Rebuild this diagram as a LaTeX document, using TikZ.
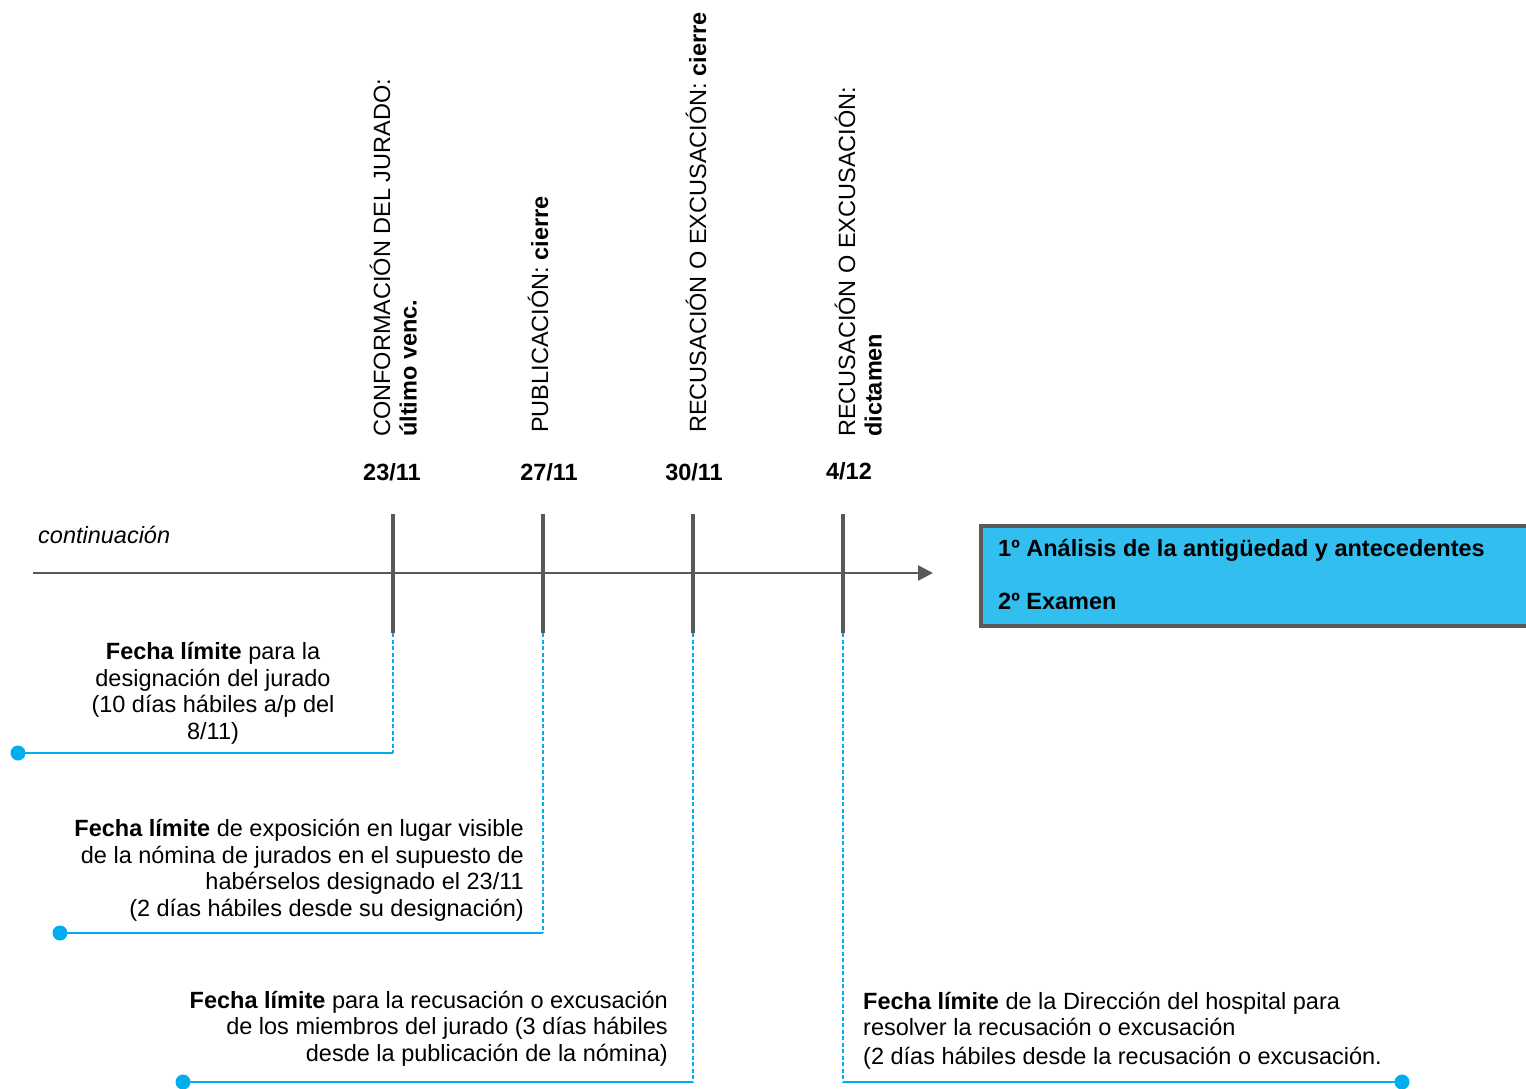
\documentclass[tikz,border=0pt]{standalone}
\usepackage{fontspec}
\setmainfont{Liberation Sans}
\usetikzlibrary{arrows.meta}

\definecolor{ejegris}{RGB}{89,89,89}
\definecolor{lineaazul}{RGB}{0,174,239}
\definecolor{cajaazul}{RGB}{51,190,240}
\newcommand{\letra}{\fontsize{23.5}{26.5}\selectfont}

\tikzset{
  eje/.style={ejegris, line width=2.5pt, -{Triangle[length=15pt,width=15pt]}},
  marca/.style={ejegris, line width=4.5pt},
  guia/.style={lineaazul, line width=1.5pt, dash pattern=on 4pt off 2.5pt},
  tramo/.style={lineaazul, line width=2.5pt},
  punto/.style={circle, fill=lineaazul, inner sep=0pt, minimum size=15pt},
  hito/.style={rotate=90, inner sep=0pt, align=left, font=\letra},
  fecha/.style={inner sep=0pt, anchor=base, font=\letra\bfseries},
  texto/.style={inner sep=0pt, font=\letra},
  caja/.style={draw=ejegris, line width=4pt, fill=cajaazul, inner sep=0pt,
    minimum width=560pt, minimum height=100pt}
}

\begin{document}
\begin{tikzpicture}[x=1pt,y=-1pt]
    \useasboundingbox (0,0) rectangle (1526,1088);
    % eje temporal
    \coordinate (ini) at (33,573);
    \coordinate (fin) at (933,573);
    \draw[eje] (ini) -- (fin);
    \node[texto, anchor=base west, font=\letra\itshape] (cont) at (38,543) {continuación};

    % hitos
    \coordinate (m1a) at (393,514);
    \coordinate (m1b) at (393,633);
    \coordinate (m2a) at (543,514);
    \coordinate (m2b) at (543,633);
    \coordinate (m3a) at (693,514);
    \coordinate (m3b) at (693,633);
    \coordinate (m4a) at (843,514);
    \coordinate (m4b) at (843,633);
    \draw[marca] (m1a) -- (m1b);
    \draw[marca] (m2a) -- (m2b);
    \draw[marca] (m3a) -- (m3b);
    \draw[marca] (m4a) -- (m4b);

    \node[fecha] (f1) at (392,480) {23/11};
    \node[fecha] (f2) at (549,480) {27/11};
    \node[fecha] (f3) at (694,480) {30/11};
    \node[fecha] (f4) at (849,479) {4/12};

    \node[hito, anchor=south west] (h1) at (417,437) {CONFORMACIÓN DEL JURADO:\\\textbf{último venc.}};
    \node[hito, anchor=base west] (h2) at (548,433) {PUBLICACIÓN: \textbf{cierre}};
    \node[hito, anchor=base west] (h3) at (706,433) {RECUSACIÓN O EXCUSACIÓN: \textbf{cierre}};
    \node[hito, anchor=south west] (h4) at (882,437) {RECUSACIÓN O EXCUSACIÓN:\\\textbf{dictamen}};

    % guias hacia los textos
    \coordinate (q1) at (393,753);
    \coordinate (q2) at (543,933);
    \coordinate (q3) at (693,1082);
    \coordinate (q4) at (843,1082);
    \node[punto] (p1) at (18,753) {};
    \node[punto] (p2) at (60,933) {};
    \node[punto] (p3) at (183,1082) {};
    \node[punto] (p4) at (1402,1082) {};
    \draw[guia] (m1b) -- (q1);
    \draw[guia] (m2b) -- (q2);
    \draw[guia] (m3b) -- (q3);
    \draw[guia] (m4b) -- (q4);
    \draw[tramo] (q1) -- (p1.center);
    \draw[tramo] (q2) -- (p2.center);
    \draw[tramo] (q3) -- (p3.center);
    \draw[tramo] (q4) -- (p4.center);

    % textos (base = ultima linea)
    \node[texto, align=center, anchor=base] (desig) at (213,739)
      {\textbf{Fecha límite} para la\\designación del jurado\\(10 días hábiles a/p del\\8/11)};
    \node[texto, align=right, anchor=base east] (expo) at (524,916)
      {\textbf{Fecha límite} de exposición en lugar visible\\de la nómina de jurados en el supuesto de\\habérselos designado el 23/11\\(2 días hábiles desde su designación)};
    \node[texto, align=right, anchor=base east] (recus) at (668,1061)
      {\textbf{Fecha límite} para la recusación o excusación\\de los miembros del jurado (3 días hábiles\\desde la publicación de la nómina)};
    \node[texto, align=left, anchor=base west] (resol) at (863,1064)
      {\textbf{Fecha límite} de la Dirección del hospital para\\resolver la recusación o excusación\\[2pt](2 días hábiles desde la recusación o excusación.};

    % etapa siguiente
    \node[caja, anchor=north west] (caja) at (979,524) {};
    \node[texto, anchor=base west, font=\letra\bfseries] (paso1) at (998,556) {1º Análisis de la antigüedad y antecedentes};
    \node[texto, anchor=base west, font=\letra\bfseries] (paso2) at (998,609) {2º Examen};
\end{tikzpicture}
\end{document}
